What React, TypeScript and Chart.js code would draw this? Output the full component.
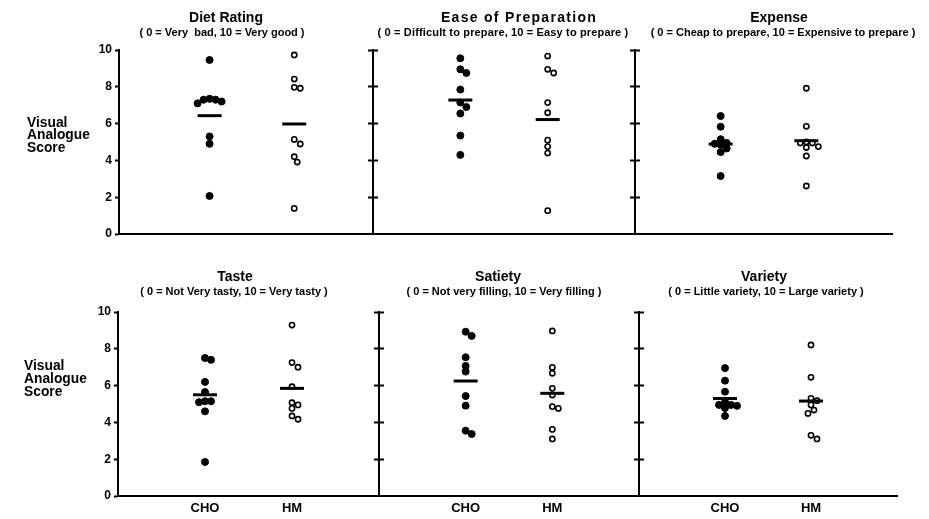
import React, { useEffect, useRef } from "react";
import { Chart, registerables } from "chart.js";

Chart.register(...registerables);

// ---------------- data ----------------
const groups = ["CHO", "HM"];
const yTickValues = [0, 2, 4, 6, 8, 10];
const dividerTickValues = [2, 4, 6, 8, 10];
const sideLabel = ["Visual", "Analogue", "Score"];

const panelTitles = ["Diet Rating", "Ease of Preparation", "Expense", "Taste", "Satiety", "Variety"];
const panelSubtitles = [
  "( 0 = Very  bad, 10 = Very good )",
  "( 0 = Difficult to prepare, 10 = Easy to prepare )",
  "( 0 = Cheap to prepare, 10 = Expensive to prepare )",
  "( 0 = Not Very tasty, 10 = Very tasty )",
  "( 0 = Not very filling, 10 = Very filling )",
  "( 0 = Little variety, 10 = Large variety )",
];

const choDiet = [9.46, 7.35, 7.3, 7.3, 7.2, 7.1, 5.3, 4.9, 2.07];
const hmDiet = [9.73, 8.42, 7.97, 7.92, 5.14, 4.89, 4.2, 3.91, 1.39];
const choEase = [9.55, 8.95, 8.75, 7.85, 7.15, 6.9, 6.55, 5.35, 4.3];
const hmEase = [9.67, 8.95, 8.75, 7.14, 6.59, 5.1, 4.75, 4.4, 1.27];
const choExpense = [6.41, 5.83, 5.15, 4.95, 4.9, 4.85, 4.65, 4.45, 3.15];
const hmExpense = [7.92, 5.85, 5.0, 4.95, 4.95, 4.75, 4.7, 4.24, 2.61];
const choTaste = [7.5, 7.4, 6.2, 5.65, 5.15, 5.15, 5.1, 4.6, 1.85];
const hmTaste = [9.29, 7.25, 7.0, 5.94, 5.07, 4.95, 4.76, 4.35, 4.17];
const choSatiety = [8.93, 8.7, 7.54, 7.07, 6.76, 5.43, 4.91, 3.55, 3.37];
const hmSatiety = [8.97, 6.99, 6.67, 5.85, 5.49, 4.86, 4.76, 3.62, 3.1];
const choVariety = [6.95, 6.27, 5.67, 5.1, 4.95, 4.95, 4.9, 4.78, 4.35];
const hmVariety = [8.21, 6.45, 5.31, 5.18, 4.95, 4.67, 4.49, 3.3, 3.1];

const choMeans = [6.43, 7.28, 4.89, 5.5, 6.25, 5.3];
const hmMeans = [5.98, 6.22, 5.07, 5.85, 5.58, 5.16];

const choScores = [choDiet, choEase, choExpense, choTaste, choSatiety, choVariety];
const hmScores = [hmDiet, hmEase, hmExpense, hmTaste, hmSatiety, hmVariety];

// ---------------- layout ----------------
const W = 929;
const H = 519;
const FONT = '"Liberation Sans", Arial, Helvetica, sans-serif';
const ROWS = [
  { top: 50, bottom: 234 },
  { top: 312, bottom: 496 },
];
const COLS = [
  [[119, 373], [373, 635], [635, 892]],
  [[118, 379], [379, 639], [639, 897]],
];
const X_MIN = [-0.07, 0, 0, 0, 0, 0];
const HEADER = [
  { tx: 226, ty: 18, sx: 222, sy: 33, ts: 0, ss: 0 },
  { tx: 519, ty: 18, sx: 503, sy: 33, ts: 1.3, ss: 0.15 },
  { tx: 779, ty: 18, sx: 783, sy: 33, ts: 0, ss: 0 },
  { tx: 235, ty: 277.5, sx: 234, sy: 292, ts: 0, ss: 0 },
  { tx: 498, ty: 277.5, sx: 504, sy: 292, ts: 0, ss: 0 },
  { tx: 764, ty: 277.5, sx: 766, sy: 292, ts: 0, ss: 0 },
];
const SIDE = [
  { x: 27, ys: [123, 135.5, 148] },
  { x: 24, ys: [366, 379, 392] },
];

// beeswarm-style horizontal offsets so overlapping points sit side by side
function swarm(values: number[], center: number, pxX: number, pxY: number) {
  const D = 5.5;
  const step = 3;
  const order = values.map((_, i) => i).sort((a, b) => values[b] - values[a]);
  const placed: { dx: number; v: number }[] = [];
  const out: { x: number; y: number }[] = new Array(values.length);
  for (const i of order) {
    const v = values[i];
    let off = 0;
    for (let k = 0; k < 30; k++) {
      const cand = k === 0 ? 0 : (k % 2 === 1 ? 1 : -1) * Math.ceil(k / 2) * step;
      const ok = placed.every((p) => Math.hypot(p.dx - cand, (p.v - v) * pxY) >= D);
      if (ok) {
        off = cand;
        break;
      }
    }
    placed.push({ dx: off, v });
    out[i] = { x: center + off / pxX, y: v };
  }
  return out;
}

function headerPlugin(p: number) {
  return {
    id: "panelHeader" + p,
    afterDraw(chart: any) {
      const ctx = chart.ctx as CanvasRenderingContext2D;
      const L = HEADER[p];
      ctx.save();
      ctx.fillStyle = "#000";
      ctx.textBaseline = "middle";
      ctx.textAlign = "center";
      ctx.font = `bold 14px ${FONT}`;
      (ctx as any).letterSpacing = L.ts + "px";
      ctx.fillText(panelTitles[p], L.tx, L.ty);
      ctx.font = `bold 11px ${FONT}`;
      (ctx as any).letterSpacing = L.ss + "px";
      ctx.fillText(panelSubtitles[p], L.sx, L.sy);
      (ctx as any).letterSpacing = "0px";
      if (p % 3 === 0) {
        const S = SIDE[Math.floor(p / 3)];
        ctx.textAlign = "left";
        ctx.font = `bold 13.8px ${FONT}`;
        sideLabel.forEach((t, i) => ctx.fillText(t, S.x, S.ys[i]));
      }
      ctx.restore();
    },
  };
}

function buildConfig(p: number): any {
  const r = Math.floor(p / 3);
  const c = p % 3;
  const [x0, x1] = COLS[r][c];
  const { top, bottom } = ROWS[r];
  const leftW = c === 0 ? 40 : 5;
  const hasRight = c < 2;
  const rightW = hasRight ? 5 : 0;
  const xH = r === 1 ? 24 : 0;
  const xMin = X_MIN[p];
  const xMax = xMin + 3;
  const pxX = (x1 - x0) / 3;
  const pxY = (bottom - top) / 10;

  const axisGrid = (len: number) => ({
    display: true,
    drawOnChartArea: false,
    drawTicks: true,
    tickLength: len,
    tickWidth: 2,
    tickColor: "#000",
  });

  const scales: any = {
    x: {
      type: "linear",
      min: xMin,
      max: xMax,
      afterBuildTicks: (s: any) => {
        s.ticks = groups.map((_, i) => ({ value: i + 1 }));
      },
      afterFit: (s: any) => {
        s.height = xH;
      },
      grid: { display: false, drawTicks: false },
      border: { display: true, width: 2, color: "#000" },
      ticks: {
        display: r === 1,
        padding: 5,
        color: "#000",
        font: { family: FONT, size: 13, weight: "bold" },
        callback: (v: any) => groups[Math.round(v) - 1] ?? "",
        maxRotation: 0,
        autoSkip: false,
      },
    },
    y: {
      type: "linear",
      position: "left",
      min: 0,
      max: 10,
      afterBuildTicks: (s: any) => {
        s.ticks = (c === 0 ? yTickValues : dividerTickValues).map((v) => ({ value: v }));
      },
      afterFit: (s: any) => {
        s.width = leftW;
      },
      grid: axisGrid(c === 0 ? 4 : 5),
      border: { display: true, width: 2, color: "#000" },
      ticks: {
        display: c === 0,
        padding: 3,
        color: "#000",
        font: { family: FONT, size: 12, weight: "bold" },
      },
    },
  };
  if (hasRight) {
    scales.yRight = {
      type: "linear",
      position: "right",
      min: 0,
      max: 10,
      afterBuildTicks: (s: any) => {
        s.ticks = dividerTickValues.map((v) => ({ value: v }));
      },
      afterFit: (s: any) => {
        s.width = rightW;
      },
      grid: axisGrid(5),
      border: { display: true, width: 2, color: "#000" },
      ticks: { display: false },
    };
  }

  return {
    type: "scatter",
    data: {
      datasets: [
        {
          label: "Mean",
          data: [
            { x: 1, y: choMeans[p] },
            { x: 2, y: hmMeans[p] },
          ],
          pointStyle: "line",
          pointRadius: 12,
          borderWidth: 3,
          borderColor: "#000",
          backgroundColor: "#000",
        },
        {
          label: groups[1],
          data: swarm(hmScores[p], 2, pxX, pxY),
          pointStyle: "circle",
          pointRadius: 2.6,
          borderWidth: 1.6,
          borderColor: "#000",
          backgroundColor: "#fff",
        },
        {
          label: groups[0],
          data: swarm(choScores[p], 1, pxX, pxY),
          pointStyle: "circle",
          pointRadius: 3.5,
          borderWidth: 1,
          borderColor: "#000",
          backgroundColor: "#000",
        },
      ],
    },
    options: {
      animation: false,
      responsive: false,
      maintainAspectRatio: false,
      events: [],
      layout: {
        padding: {
          left: x0 - leftW,
          right: W - x1 - rightW,
          top: top,
          bottom: H - bottom - xH,
        },
      },
      plugins: {
        legend: { display: false },
        tooltip: { enabled: false },
        title: { display: false },
      },
      scales,
    },
    plugins: [headerPlugin(p)],
  };
}

function Panel({ index }: { index: number }) {
  const ref = useRef<HTMLCanvasElement | null>(null);
  useEffect(() => {
    if (!ref.current) return;
    const chart = new Chart(ref.current, buildConfig(index));
    return () => chart.destroy();
  }, [index]);
  return (
    <canvas
      ref={ref}
      width={W}
      height={H}
      style={{ position: "absolute", left: 0, top: 0, width: W, height: H }}
    />
  );
}

export default function App() {
  return (
    <div
      style={{
        position: "absolute",
        left: 0,
        top: 0,
        width: W,
        height: H,
        background: "#fff",
        overflow: "hidden",
      }}
    >
      {panelTitles.map((_, i) => (
        <Panel key={i} index={i} />
      ))}
    </div>
  );
}
